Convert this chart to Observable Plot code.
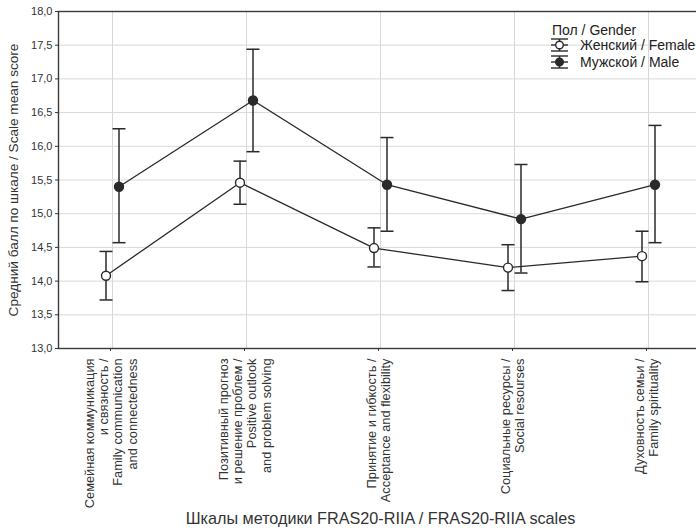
<!DOCTYPE html>
<html>
<head>
<meta charset="utf-8">
<script src="https://cdn.jsdelivr.net/npm/d3@7"></script>
<script src="https://cdn.jsdelivr.net/npm/@observablehq/plot@0.6"></script>
<style>
  html, body { margin: 0; padding: 0; background: #fff; }
  #chart { position: relative; width: 696px; height: 530px; overflow: hidden; }
</style>
</head>
<body>
<div id="chart"></div>
<script>
const categories = [
  "Семейная коммуникация\nи связность /\nFamily communication\nand connectedness",
  "Позитивный прогноз\nи решение проблем /\nPositive outlook\nand problem solving",
  "Принятие и гибкость /\nAcceptance and flexibility",
  "Социальные ресурсы /\nSocial resourses",
  "Духовность семьи /\nFamily spirituality"
];
const female = [14.08, 15.46, 14.49, 14.20, 14.37];
const femaleLow = [13.72, 15.14, 14.21, 13.86, 13.99];
const femaleHigh = [14.44, 15.78, 14.79, 14.54, 14.74];
const male = [15.40, 16.68, 15.43, 14.92, 15.43];
const maleLow = [14.57, 15.92, 14.74, 14.12, 14.57];
const maleHigh = [16.26, 17.44, 16.13, 15.73, 16.31];
const yTicks = [13, 13.5, 14, 14.5, 15, 15.5, 16, 16.5, 17, 17.5, 18];
const legendTitle = "Пол / Gender";
const seriesNames = ["Женский / Female", "Мужской / Male"];

const fem = categories.map((c, i) => ({cat: c, v: female[i], lo: femaleLow[i], hi: femaleHigh[i]}));
const mal = categories.map((c, i) => ({cat: c, v: male[i], lo: maleLow[i], hi: maleHigh[i]}));

const capSymbol = {
  draw(ctx, size) {
    const r = Math.sqrt(size / Math.PI);
    ctx.moveTo(-r, 0);
    ctx.lineTo(r, 0);
  }
};

const ink = "#2a2a2a";
const off = 6.5;

function series(data, dx, filled) {
  return [
    Plot.line(data, {x: "cat", y: "v", dx, stroke: ink, strokeWidth: 1.3}),
    Plot.ruleX(data, {x: "cat", y1: "lo", y2: "hi", dx, stroke: ink, strokeWidth: 1.5}),
    Plot.dot(data, {x: "cat", y: "lo", dx, symbol: capSymbol, r: 6.5, stroke: ink, strokeWidth: 1.5, fill: "none"}),
    Plot.dot(data, {x: "cat", y: "hi", dx, symbol: capSymbol, r: 6.5, stroke: ink, strokeWidth: 1.5, fill: "none"}),
    Plot.dot(data, {x: "cat", y: "v", dx, r: 4.5, stroke: ink, strokeWidth: 1.4, fill: filled ? ink : "#fff"})
  ];
}

const chart = Plot.plot({
  width: 696,
  height: 530,
  marginLeft: 58,
  marginRight: -6,
  marginTop: 11,
  marginBottom: 182,
  style: {fontFamily: "'Liberation Sans', Arial, sans-serif", color: "#333", background: "#fff"},
  x: {type: "point", domain: categories, padding: 0.394},
  y: {domain: [13, 18]},
  marks: [
    Plot.gridY(yTicks, {stroke: "#d9d9d9", strokeOpacity: 1}),
    Plot.gridX({stroke: "#d9d9d9", strokeOpacity: 1}),
    Plot.frame({stroke: "#3a3a3a", strokeWidth: 1.4}),
    Plot.axisY(yTicks, {
      tickFormat: d => d.toFixed(1).replace(".", ","),
      tickSize: 3, tickPadding: 3, fontSize: 11,
      label: "Средний балл по шкале / Scale mean score",
      labelAnchor: "center", labelOffset: 50, labelArrow: "none"
    }),
    Plot.axisX({
      tickRotate: -90, tickSize: 3, tickPadding: 7, fontSize: 12.8, lineHeight: 1.12, dx: -2,
      label: "Шкалы методики FRAS20-RIIA / FRAS20-RIIA scales",
      labelAnchor: "center", labelOffset: 175, labelArrow: "none"
    }),
    ...series(fem, -off, false),
    ...series(mal, off, true)
  ]
});

document.getElementById("chart").appendChild(chart);

const svg = d3.select(chart);
svg.selectAll("g[aria-label='y-axis label'] text").attr("font-size", 13.6);
svg.selectAll("g[aria-label='x-axis label'] text").attr("font-size", 16.2);

// Legend (top-right, inside plot area)
const lg = svg.append("g")
  .attr("font-family", "'Liberation Sans', Arial, sans-serif")
  .attr("font-size", 14).attr("fill", "#222").attr("text-anchor", "start");
lg.append("text").attr("x", 552).attr("y", 35).text(legendTitle);
seriesNames.forEach((name, i) => {
  const cy = 45 + i * 17;
  const g = lg.append("g").attr("stroke", ink).attr("stroke-width", 1.4);
  [-6, 0, 6].forEach(d => g.append("line").attr("x1", 551).attr("x2", 568).attr("y1", cy + d).attr("y2", cy + d));
  g.append("line").attr("x1", 559.5).attr("x2", 559.5).attr("y1", cy - 6).attr("y2", cy + 6);
  g.append("circle").attr("cx", 559.5).attr("cy", cy).attr("r", 3.8).attr("fill", i === 0 ? "#fff" : ink);
  lg.append("text").attr("x", 580).attr("y", cy + 4.5).text(name);
});
</script>
</body>
</html>
